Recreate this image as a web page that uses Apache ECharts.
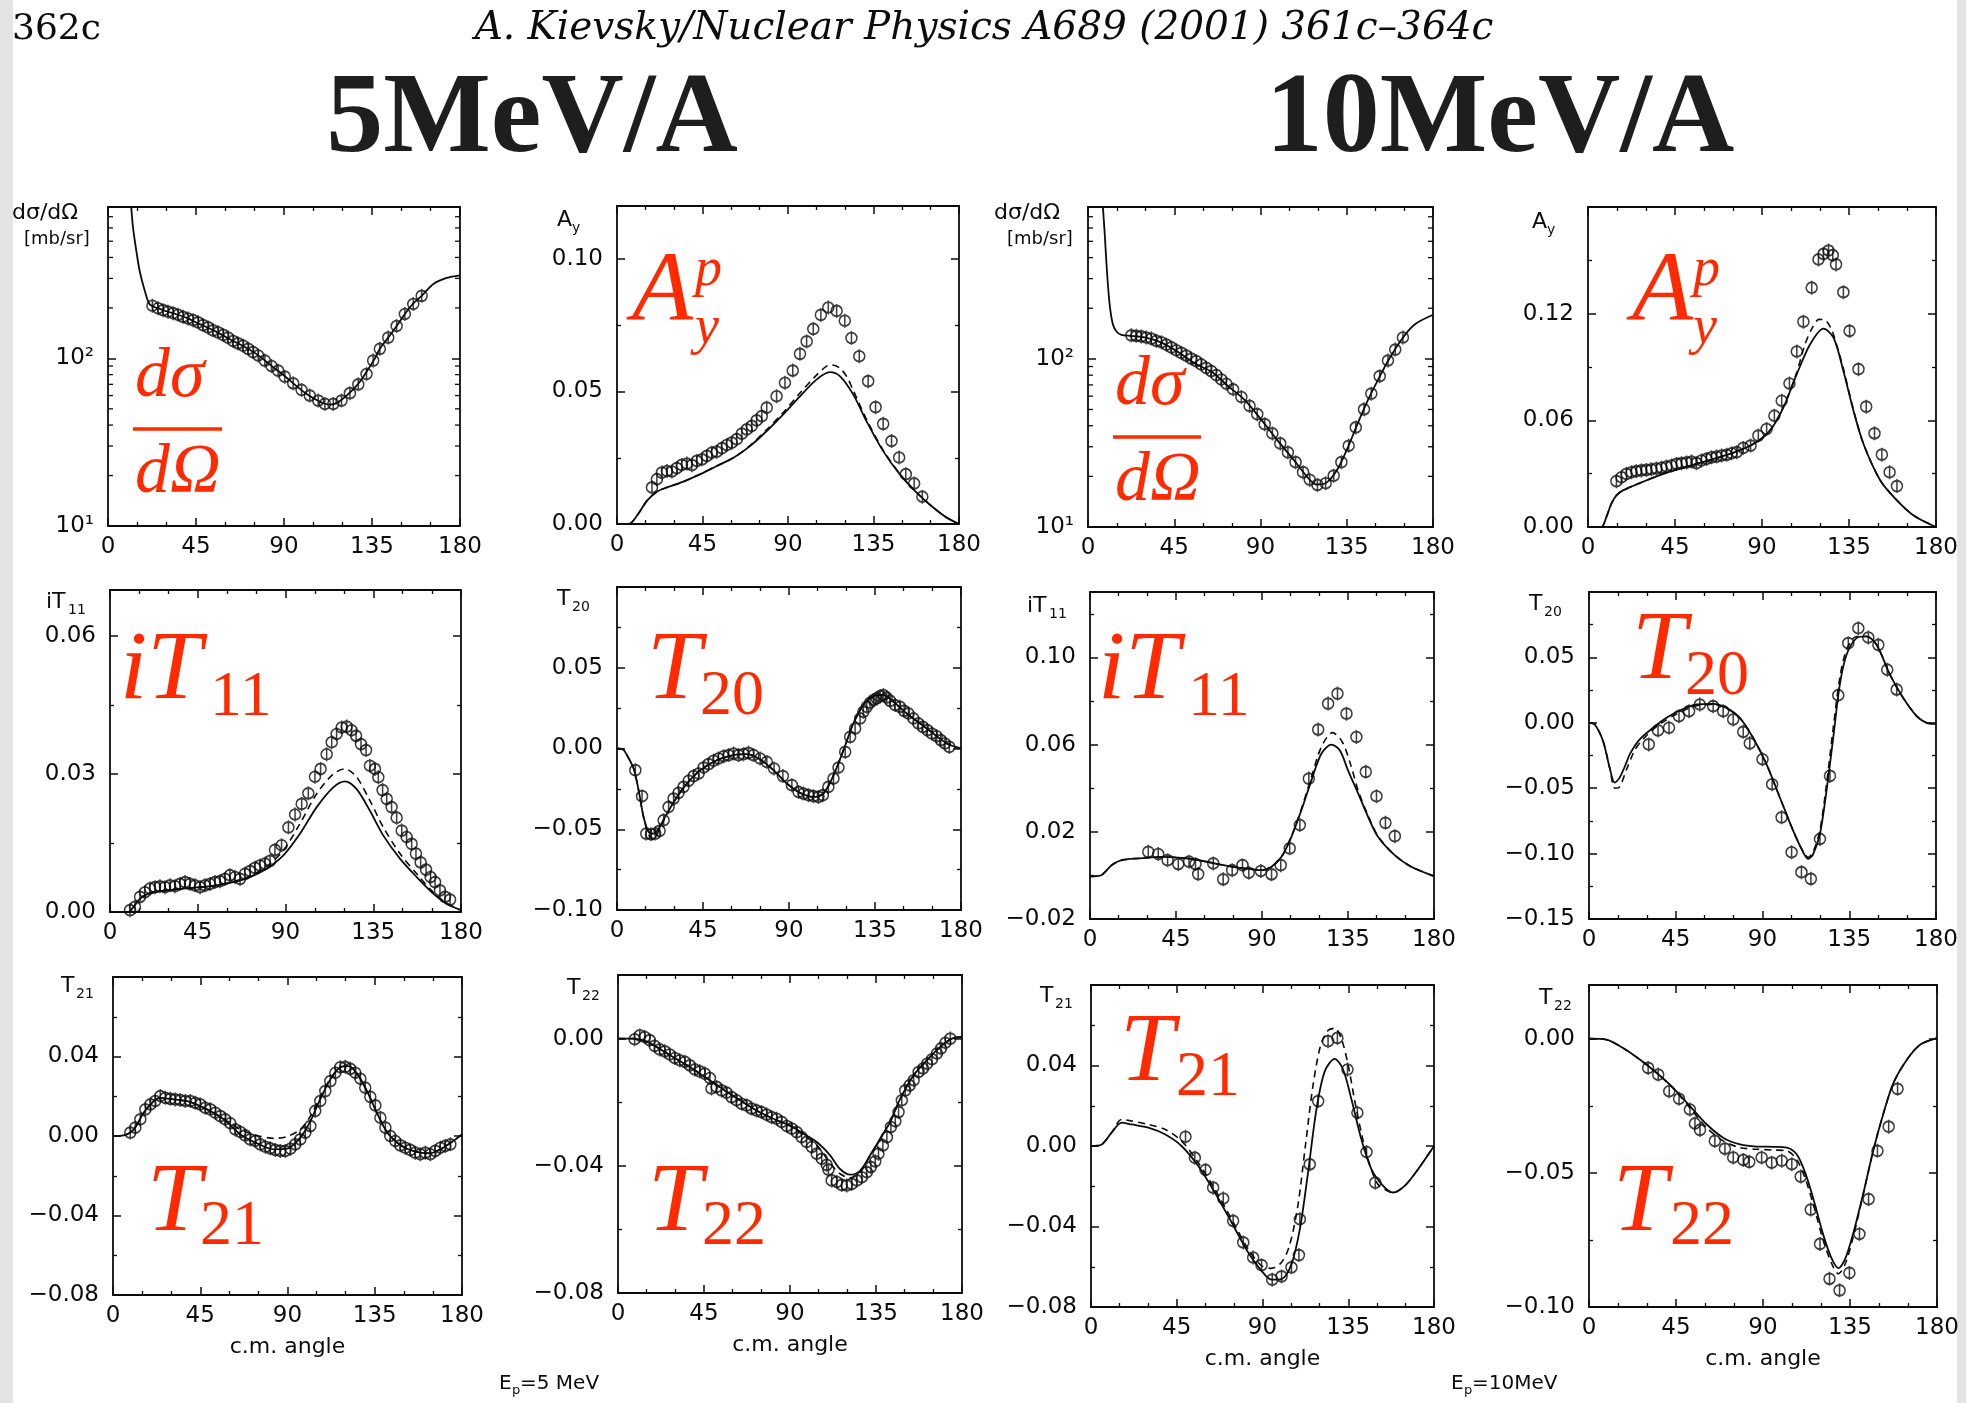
<!DOCTYPE html>
<html>
<head>
<meta charset="utf-8">
<title>A. Kievsky, Nucl. Phys. A689 (2001) 361c - p-d observables</title>
<script src="https://cdn.jsdelivr.net/npm/echarts@6/dist/echarts.min.js"></script>
<style>
  html, body { margin: 0; padding: 0; background: #fff; }
  #chart { width: 1966px; height: 1403px; }
</style>
</head>
<body>
<div id="chart"></div>
<script>
// angle ticks shared by every panel (c.m. angle, degrees)
const angleTicks = [0, 45, 90, 135, 180]
// minor ticks of the two log panels (mb/sr)
const logMinorTicks = [20, 30, 40, 50, 60, 70, 80, 90, 200, 300, 400, 500, 600, 700]

// ---- Ep = 5 MeV ----
// dsigma/dOmega [mb/sr]
const dsig5Calc = [[11.9,790],[12.8,603],[14.5,437],[16.2,332],[18.8,253],[21.3,210],[25,200],[30,191],[35,183],[40,175],[47,160],[55,145],[64,127],[70,117],[76,106],[83,91.5],[90,79],[95,70.5],[101,62],[106,57],[110,54],[114,53],[118,55],[122,60],[125.5,65.5],[129,73],[133,86],[136.5,100],[139,114],[143.3,133],[147.6,156],[151.8,184],[156,212],[160.4,236],[166.4,278],[173.2,302],[180,313]]
const dsig5Exp = [[22.7,206],[25.6,199],[28.2,194],[30.7,190],[33.3,186],[35.8,182],[38.4,177],[40.9,173],[43.5,169],[46.1,164],[48.6,158],[51.2,153],[53.7,147],[56.3,143],[58.9,138],[61.4,133],[64,127],[66.5,123],[69.1,119],[71.7,114],[74.2,109],[76.8,104],[80.2,97],[83.6,90],[87,84.5],[90.4,77.8],[94.7,71],[99,64.8],[103.2,60],[107.5,56],[110.9,53.5],[115.2,53.5],[119.4,56],[123.7,62],[128,70],[132.2,80.7],[135.6,97],[139,114],[143.3,133],[147.6,156],[151.8,184],[156.1,211],[160.4,236]]

// A_y
const ay5Calc = [[0,0],[6.1,0],[10.5,0.0031],[15.8,0.0088],[21,0.0122],[26.3,0.0138],[35,0.016],[43.8,0.0188],[52.5,0.0219],[61.3,0.025],[70,0.0294],[78.8,0.0351],[87.5,0.0414],[96.3,0.0482],[105,0.0545],[112,0.0573],[117.3,0.0558],[124.3,0.0489],[131.3,0.0388],[140,0.0276],[148.8,0.0188],[157.6,0.0119],[166.3,0.0063],[173.3,0.0025],[180,0]]
const ay5Alt = [[0,0],[6.1,0],[10.5,0.0031],[15.8,0.0088],[21,0.0122],[26.3,0.0138],[35,0.016],[43.8,0.0188],[52.5,0.0219],[61.3,0.025],[70,0.0296],[78.8,0.0356],[87.5,0.0421],[96.3,0.0494],[105,0.0562],[110,0.0594],[113,0.06],[117.3,0.0588],[121,0.0555],[124.3,0.0505],[131.3,0.0395],[140,0.028],[148.8,0.019],[157.6,0.012],[166.3,0.0063],[173.3,0.0025],[180,0]]
const ay5Exp = [[18.4,0.0138],[21,0.0169],[23.6,0.0194],[26.3,0.02],[28.9,0.0198],[31.5,0.0211],[34.1,0.0223],[36.8,0.0228],[39.4,0.0222],[42,0.0238],[44.7,0.0244],[47.3,0.0257],[49.9,0.0269],[52.5,0.0273],[55.2,0.0286],[57.8,0.0298],[60.4,0.0307],[63,0.032],[65.7,0.0341],[68.3,0.0357],[70.9,0.037],[73.5,0.0391],[76.2,0.0407],[78.8,0.0439],[84,0.0482],[88.4,0.0533],[92.5,0.0579],[96.3,0.0642],[99.8,0.0689],[103.3,0.0736],[107.3,0.0789],[111.2,0.0817],[115.6,0.0804],[119.9,0.0767],[123.4,0.0702],[127.5,0.0633],[132.2,0.0539],[136.1,0.0441],[140.1,0.0378],[144.5,0.0313],[148.5,0.0251],[152,0.0188],[156.4,0.0153],[160.7,0.0103]]

// iT11
const it5Calc = [[0,0],[9.4,0],[12,0.0011],[15.4,0.0029],[20.5,0.0041],[29,0.0047],[37.6,0.0051],[46.2,0.0054],[54.7,0.0058],[63.2,0.0065],[71.8,0.0076],[80.3,0.0094],[88.9,0.0123],[97.4,0.017],[106,0.0228],[114.5,0.0271],[120.5,0.0284],[126.5,0.0267],[133.3,0.022],[140.2,0.0166],[148.7,0.0116],[157.3,0.0076],[165.8,0.004],[172.6,0.0018],[180,0.0004]]
const it5Alt = [[0,0],[9.4,0],[12,0.0011],[15.4,0.0029],[20.5,0.0041],[29,0.0047],[37.6,0.0051],[46.2,0.0054],[54.7,0.0058],[63.2,0.0066],[71.8,0.0078],[80.3,0.0099],[88.9,0.0134],[97.4,0.0192],[106,0.0257],[114.5,0.03],[120.5,0.0311],[126.5,0.0293],[133.3,0.0242],[140.2,0.0184],[148.7,0.0127],[157.3,0.0083],[165.8,0.0043],[172.6,0.0019],[180,0.0004]]
const it5Exp = [[10.3,0.0004],[12.8,0.0011],[15.4,0.0033],[17.9,0.0043],[20.5,0.0051],[23.1,0.0054],[25.6,0.0056],[28.2,0.0054],[30.8,0.0058],[33.3,0.0056],[35.9,0.0061],[38.5,0.0065],[41,0.0061],[43.6,0.0058],[46.2,0.0054],[48.7,0.0058],[51.3,0.0061],[53.8,0.0065],[56.4,0.0067],[59,0.0072],[61.5,0.008],[64.1,0.0076],[66.7,0.0072],[69.2,0.0083],[71.8,0.0089],[74.4,0.0096],[76.9,0.0101],[79.5,0.0105],[82.1,0.0111],[84.6,0.0135],[88,0.0145],[91.5,0.0184],[94.9,0.0212],[98.3,0.0235],[101.7,0.0258],[105.1,0.0294],[108,0.0311],[111.1,0.0343],[113.7,0.0369],[116.2,0.0387],[118.8,0.0401],[121.4,0.0403],[123.9,0.0395],[126.2,0.0383],[128.7,0.0365],[131.3,0.0352],[133.3,0.0318],[135.9,0.0311],[137.6,0.0293],[139.8,0.0265],[141.9,0.0246],[144.4,0.0228],[147,0.0205],[149.6,0.0177],[152.1,0.0163],[154.7,0.0148],[156.9,0.0127],[159.3,0.0108],[162.1,0.0092],[164.4,0.0076],[166.7,0.0065],[169.2,0.0047],[171.8,0.0033],[174.4,0.0027]]

// T20
const t205Calc = [[0,0],[3,-0.0005],[5.2,-0.0041],[8.7,-0.0124],[11.3,-0.0258],[13.9,-0.0424],[16.6,-0.0517],[19.2,-0.0527],[21.8,-0.0496],[26.1,-0.0403],[31.4,-0.03],[36.6,-0.0217],[43.6,-0.0134],[52.3,-0.0072],[61,-0.0041],[68,-0.0035],[74.9,-0.0068],[81.9,-0.0134],[88.9,-0.0217],[95.8,-0.0275],[102.8,-0.03],[108,-0.0279],[113.3,-0.0165],[118.5,-0.001],[123.7,0.0155],[128.9,0.0269],[134.2,0.0324],[139.4,0.0331],[144.6,0.0289],[151.6,0.0217],[158.6,0.0155],[165.5,0.0093],[172.5,0.0031],[180,0]]
const t205Alt = [[0,0],[3,-0.0005],[5.2,-0.0041],[8.7,-0.0124],[11.3,-0.0258],[13.9,-0.0424],[16.6,-0.0535],[19.2,-0.0565],[21.8,-0.051],[26.1,-0.0406],[31.4,-0.03],[36.6,-0.0217],[43.6,-0.0134],[52.3,-0.0072],[61,-0.0041],[68,-0.0035],[74.9,-0.0068],[81.9,-0.0134],[88.9,-0.0217],[95.8,-0.0275],[102.8,-0.03],[108,-0.0279],[113.3,-0.0165],[118.5,-0.001],[123.7,0.0155],[128.9,0.0269],[134.2,0.0324],[139.4,0.0331],[144.6,0.0289],[151.6,0.0217],[158.6,0.0155],[165.5,0.0093],[172.5,0.0031],[180,0]]
const t205Exp = [[9.6,-0.0134],[13.1,-0.0295],[15.3,-0.0527],[17.8,-0.0531],[20,-0.0527],[22.3,-0.051],[24.4,-0.0444],[27,-0.0362],[29.6,-0.031],[32.2,-0.0275],[34.8,-0.0238],[37.5,-0.02],[40.1,-0.0171],[42.7,-0.0155],[45.3,-0.0118],[47.9,-0.0097],[50.5,-0.0076],[53.1,-0.0062],[55.8,-0.0048],[58.4,-0.0041],[61,-0.0031],[63.6,-0.0041],[66.2,-0.0035],[68.8,-0.0027],[71.4,-0.0041],[74.9,-0.0062],[78.4,-0.0083],[82.2,-0.0124],[86.8,-0.0171],[91.5,-0.0227],[95,-0.0269],[97.6,-0.0279],[100.2,-0.0289],[102.8,-0.0295],[105.4,-0.03],[107.7,-0.0289],[110.6,-0.0238],[113.3,-0.0186],[115.9,-0.0118],[119.4,-0.0021],[122,0.0072],[124.6,0.0124],[127.2,0.0186],[128.9,0.0227],[130.7,0.0258],[132.4,0.0283],[134.2,0.03],[135.9,0.031],[137.7,0.0324],[139.4,0.0331],[141.1,0.0316],[142.9,0.0295],[145.5,0.0269],[148.1,0.0258],[150.2,0.0233],[152.5,0.0217],[155.1,0.0186],[157.7,0.0155],[160,0.0134],[162.4,0.0114],[164.7,0.0093],[167.3,0.0076],[169.4,0.0052],[171.6,0.0031],[173.9,0.001]]

// T21
const t215Calc = [[0,0],[5.5,0.0003],[10.7,0.0033],[15.8,0.0117],[21,0.0176],[24.4,0.0192],[31.3,0.0184],[39.9,0.0171],[48.5,0.0134],[57.1,0.0084],[65.7,0.0008],[74.3,-0.0037],[82.9,-0.0067],[89.7,-0.0064],[96.6,-0.0008],[101.8,0.0075],[106.9,0.0185],[112.1,0.0285],[117.2,0.0346],[121.5,0.0352],[125.8,0.0315],[131,0.0226],[136.1,0.0117],[141.3,0.002],[146.5,-0.0033],[151.6,-0.0064],[158.5,-0.0084],[163.7,-0.0087],[168.8,-0.0067],[174.8,-0.003],[180,0.0008]]
const t215Alt = [[0,0],[5.5,0.0003],[10.7,0.0033],[15.8,0.0117],[21,0.0176],[24.4,0.0192],[31.3,0.0184],[39.9,0.0171],[48.5,0.0134],[57.1,0.0086],[65.7,0.0033],[74.3,0.0003],[82.9,-0.0012],[89.7,-0.0003],[96.6,0.0033],[101.8,0.01],[106.9,0.0195],[112.1,0.0288],[117.2,0.0346],[121.5,0.0352],[125.8,0.0315],[131,0.0226],[136.1,0.0117],[141.3,0.002],[146.5,-0.0033],[151.6,-0.0064],[158.5,-0.0084],[163.7,-0.0087],[168.8,-0.0067],[174.8,-0.003],[180,0.0008]]
const t215Exp = [[8.9,0.0017],[11.5,0.0042],[14.1,0.0084],[16.7,0.0134],[19.3,0.0159],[21.8,0.0176],[24.4,0.0201],[27,0.0192],[29.6,0.0187],[32.1,0.0184],[34.7,0.0181],[37.3,0.0176],[39.9,0.0176],[42.5,0.0167],[45,0.0159],[47.6,0.0142],[50.2,0.0134],[52.8,0.0117],[55.4,0.01],[57.9,0.0084],[60.5,0.0064],[63.1,0.0033],[65.7,0.002],[68.2,0.0003],[70.8,-0.0017],[73.4,-0.0025],[76,-0.0042],[78.6,-0.0054],[81.1,-0.0062],[83.7,-0.007],[86.3,-0.0075],[88.9,-0.0075],[91.5,-0.0064],[94,-0.0042],[96.6,-0.0017],[99.2,0.0017],[101.8,0.005],[104.3,0.0126],[106.9,0.0176],[109.5,0.0226],[112.1,0.0276],[114.7,0.0318],[117.2,0.0346],[119.8,0.0348],[122.4,0.0338],[125,0.0318],[127.6,0.0288],[130.1,0.0243],[132.7,0.0197],[135.3,0.0154],[137.9,0.0092],[140.5,0.0042],[143,0],[145.6,-0.0025],[148.2,-0.0047],[150.8,-0.0059],[153.3,-0.007],[155.9,-0.0084],[158.5,-0.0092],[161.1,-0.0084],[163.7,-0.0092],[166.2,-0.0075],[168.8,-0.0059],[171.4,-0.005],[174,-0.0042]]

// T22
const t225Calc = [[0,0],[7.9,0],[13.1,-0.0005],[20.1,-0.0026],[28.8,-0.0058],[37.6,-0.0089],[46.3,-0.0124],[55.1,-0.016],[63.8,-0.0194],[72.5,-0.0226],[81.3,-0.0252],[90,-0.0273],[97,-0.0299],[104,-0.0325],[111,-0.0367],[116.2,-0.041],[121.5,-0.0428],[126.7,-0.0415],[131.9,-0.0367],[137.2,-0.0315],[142.4,-0.0262],[147.7,-0.0189],[154.7,-0.0115],[161.7,-0.0068],[168.6,-0.0026],[174.8,0],[180,0.0005]]
const t225Alt = [[0,0],[7.9,0],[13.1,-0.0005],[20.1,-0.0026],[28.8,-0.0058],[37.6,-0.0089],[46.3,-0.0124],[55.1,-0.016],[63.8,-0.0194],[72.5,-0.0226],[81.3,-0.0252],[90,-0.0275],[97,-0.0304],[104,-0.0335],[111,-0.0392],[116.2,-0.0425],[121.5,-0.0438],[126.7,-0.042],[131.9,-0.0369],[137.2,-0.0315],[142.4,-0.0262],[147.7,-0.0189],[154.7,-0.0115],[161.7,-0.0068],[168.6,-0.0026],[174.8,0],[180,0.0005]]
const t225Exp = [[8.7,-0.0002],[11.4,0.001],[14,0.0005],[16.6,-0.0005],[19.2,-0.0023],[21.8,-0.0034],[24.5,-0.004],[27.1,-0.005],[29.7,-0.0061],[32.3,-0.0068],[35,-0.0073],[37.6,-0.0084],[40.2,-0.0097],[42.8,-0.0103],[45.4,-0.011],[48.1,-0.0124],[48.9,-0.0157],[51.6,-0.0152],[54.2,-0.0163],[56.8,-0.017],[59.4,-0.0184],[62,-0.0194],[64.7,-0.0205],[67.3,-0.021],[69.9,-0.022],[72.5,-0.0226],[75.1,-0.0231],[77.8,-0.0239],[80.4,-0.0247],[83,-0.0252],[85.6,-0.0262],[88.3,-0.0275],[90.9,-0.0283],[93.5,-0.0294],[96.1,-0.031],[98.7,-0.0325],[101.4,-0.0341],[104,-0.0362],[106.6,-0.0378],[109.2,-0.0397],[110.1,-0.0412],[111.8,-0.0446],[114.5,-0.0451],[117.1,-0.046],[119.7,-0.0462],[122.3,-0.0457],[125,-0.0446],[127.6,-0.0436],[130.2,-0.042],[132.3,-0.0404],[134.6,-0.0386],[136.3,-0.0362],[138.6,-0.0336],[140.7,-0.031],[142.8,-0.0278],[145.1,-0.026],[146.8,-0.0231],[148.5,-0.0194],[150.3,-0.0163],[152.6,-0.0147],[154.7,-0.0131],[157.3,-0.0105],[159.6,-0.0094],[161.7,-0.0079],[164.3,-0.0065],[166.9,-0.0047],[169,-0.0031],[171.3,-0.0013],[173.9,0]]

// ---- Ep = 10 MeV ----
const dsig10Calc = [[7.8,790],[8.7,560],[9.9,330],[11.3,210],[13,160],[15,145],[17.4,139],[22.6,137],[29.6,134],[38.3,125],[47,110],[55.7,94],[64.3,84],[73,69],[81.7,57],[90.4,43.5],[99.1,32.5],[107.8,24.7],[114.8,19.6],[119.1,17.9],[124.3,18.3],[130.4,22.3],[135.7,30],[140.9,41.8],[146.1,57],[151.3,75],[156.5,97],[163.5,130],[170.4,160],[180,183]]
const dsig10Exp = [[22.6,138],[25.2,137],[27.8,136],[30.4,134],[33,132],[35.7,128],[38.3,125.5],[40.9,121.5],[43.5,117],[46.1,112.5],[48.7,108.5],[51.3,104.6],[53.9,100.4],[56.5,96.9],[59.1,92.6],[61.7,88.4],[64.3,84.6],[67,80],[69.6,75.4],[72.2,71.1],[75.7,65.9],[80,59.3],[84.3,52.5],[88.3,46.9],[92.2,40.9],[96.2,36],[100.3,31.4],[104.3,27.8],[108.3,24.3],[112.2,21.2],[115.7,19.1],[119.7,17.8],[124,18.2],[128.2,20.2],[132.2,24.3],[136,30.4],[139.7,39.1],[144,50.1],[147.8,62.1],[152.2,78.9],[156.5,97.7],[160.3,113.5],[164.3,134]]

const ay10Calc = [[0,0],[6.9,0],[9.5,0.0056],[12.1,0.0131],[14.7,0.0178],[18.1,0.0206],[26.8,0.0247],[38.9,0.0299],[56.1,0.0355],[73.4,0.0411],[85.5,0.0467],[94.1,0.0542],[101.1,0.0673],[108,0.086],[114.9,0.1028],[121.8,0.1116],[127,0.1065],[132.1,0.0878],[137.3,0.0654],[142.5,0.0467],[151.2,0.0262],[159.8,0.015],[168.4,0.0065],[180,0]]
const ay10Alt = [[0,0],[6.9,0],[9.5,0.0056],[12.1,0.0131],[14.7,0.0178],[18.1,0.0206],[26.8,0.0247],[38.9,0.0299],[56.1,0.0355],[73.4,0.0411],[85.5,0.0467],[94.1,0.0544],[101.1,0.0678],[108,0.087],[112,0.102],[116,0.112],[119.5,0.1168],[122.5,0.1165],[126,0.111],[129,0.101],[132.1,0.089],[137.3,0.066],[142.5,0.0467],[151.2,0.0262],[159.8,0.015],[168.4,0.0065],[180,0]]
const ay10Exp = [[14.7,0.0258],[17.3,0.028],[19.9,0.0299],[22.5,0.0308],[25,0.0314],[27.6,0.0318],[30.2,0.0321],[32.8,0.0325],[35.4,0.0329],[38,0.0333],[40.6,0.034],[43.2,0.0346],[45.8,0.0355],[48.4,0.0359],[51,0.0363],[53.6,0.0368],[56.1,0.0359],[58.7,0.0374],[61.3,0.0383],[63.9,0.0392],[66.5,0.0396],[69.1,0.0402],[71.7,0.0406],[74.3,0.0415],[76.9,0.0421],[80.3,0.0445],[84.1,0.0458],[88.1,0.0514],[92.4,0.0551],[96.4,0.0626],[100.2,0.071],[104.2,0.0807],[108,0.0987],[111.4,0.1155],[115.7,0.1346],[119.2,0.1505],[121.8,0.1536],[124.4,0.1555],[126.6,0.1529],[128.3,0.1477],[132.1,0.1321],[135.3,0.1103],[139.9,0.0888],[143.9,0.0677],[148.2,0.0527],[152,0.0407],[156,0.0308],[159.8,0.023]]

const it10Calc = [[0,-0.0005],[6.1,0.0002],[11.3,0.0047],[16.6,0.007],[25.3,0.0078],[37.5,0.0085],[46.2,0.0082],[54.9,0.0073],[63.6,0.0058],[72.3,0.0043],[81,0.0032],[89.7,0.0024],[95,0.004],[100.2,0.0085],[105.4,0.0177],[110.6,0.0299],[115.9,0.0437],[121.1,0.0559],[126.3,0.06],[130.7,0.0574],[135,0.0482],[140.3,0.0376],[145.5,0.0269],[150.7,0.0177],[159.4,0.0093],[168.1,0.004],[180,-0.0003]]
const it10Alt = [[0,-0.0005],[6.1,0.0002],[11.3,0.0047],[16.6,0.007],[25.3,0.0078],[37.5,0.0085],[46.2,0.0082],[54.9,0.0073],[63.6,0.0058],[72.3,0.0043],[81,0.0032],[89.7,0.0024],[95,0.004],[100.2,0.0085],[105.4,0.018],[110.6,0.0305],[115.9,0.0452],[121.1,0.059],[126.9,0.0655],[132,0.0612],[136.5,0.0505],[140.3,0.039],[145.5,0.0275],[150.7,0.018],[159.4,0.0093],[168.1,0.004],[180,-0.0003]]
const it10Exp = [[30.5,0.0108],[35.7,0.0098],[40.6,0.007],[46.2,0.0052],[51.8,0.0063],[55.2,0.0052],[56.6,0.0006],[64.5,0.0055],[69.7,-0.0018],[74.4,0.0024],[79.8,0.0047],[83.1,0.0012],[89.4,0.002],[95,0.0005],[99.8,0.0047],[104.5,0.0124],[109.8,0.0231],[114.5,0.0444],[119.4,0.0669],[124.6,0.0788],[129.5,0.0834],[134.2,0.0742],[139.4,0.0635],[144.3,0.0475],[149.9,0.0363],[154.6,0.0241],[159.5,0.018]]

const t2010Calc = [[0,0],[3,-0.0013],[7.3,-0.014],[10.7,-0.0343],[13.3,-0.0457],[15.9,-0.0419],[19.4,-0.0305],[21.1,-0.0241],[26.3,-0.0127],[33.2,-0.0038],[40.2,0.0038],[47.1,0.0094],[55.7,0.014],[64.4,0.0145],[71.3,0.0114],[78.2,0.0038],[85.1,-0.0114],[92.1,-0.0317],[99,-0.0571],[105.9,-0.0825],[111.1,-0.099],[113.7,-0.1041],[116.3,-0.1003],[119.8,-0.085],[123.2,-0.052],[126.7,-0.0114],[130.1,0.0292],[133.6,0.052],[138.8,0.0647],[144,0.066],[149.2,0.0596],[156.1,0.0368],[163,0.019],[170,0.0051],[175.1,0],[180,-0.0008]]
const t2010Alt = [[0,0],[3,-0.0013],[7.3,-0.014],[10.7,-0.0343],[13.5,-0.05],[15.9,-0.049],[19.4,-0.036],[24,-0.0203],[30,-0.0095],[37,-0.0008],[45,0.0063],[55.7,0.013],[64.4,0.014],[71.3,0.011],[78.2,0.0038],[85.1,-0.0114],[92.1,-0.0317],[99,-0.0571],[105.9,-0.0825],[111.1,-0.0985],[113.7,-0.1028],[116.3,-0.0985],[119.8,-0.082],[123.2,-0.047],[126.7,-0.0038],[130.1,0.0343],[133.6,0.0558],[138.8,0.066],[144,0.066],[149.2,0.0596],[156.1,0.0368],[163,0.019],[170,0.0051],[175.1,0],[180,-0.0008]]
const t2010Exp = [[31,-0.0165],[35.8,-0.0058],[41.5,-0.0038],[46.7,0.0051],[51.9,0.0089],[57.5,0.014],[64.4,0.0127],[69.6,0.0089],[74.8,0.0025],[80,-0.0069],[83.4,-0.0157],[90,-0.0279],[95,-0.047],[99.9,-0.0723],[105.1,-0.099],[110.2,-0.1142],[115.1,-0.1193],[119.8,-0.0888],[125,-0.0406],[129.3,0.0211],[134.5,0.0609],[139.7,0.0723],[144.9,0.0652],[150.1,0.0596],[154.7,0.0406],[159.6,0.0254]]

const t2110Calc = [[0,0],[5.6,0.0008],[10.8,0.0066],[16.1,0.0116],[21.3,0.0107],[30.1,0.0091],[38.8,0.0058],[47.5,0],[56.3,-0.0099],[65,-0.0231],[73.8,-0.038],[82.5,-0.0529],[89.5,-0.062],[94.7,-0.0664],[100,-0.0661],[105.2,-0.0587],[109.6,-0.0413],[113.9,-0.0132],[118.3,0.0182],[122.7,0.0372],[127.9,0.0433],[132.3,0.038],[136.7,0.0231],[141.9,0.0033],[147.2,-0.0116],[153.3,-0.0198],[158.5,-0.0231],[164.6,-0.0198],[171.6,-0.0116],[180,0]]
const t2110Alt = [[0,0],[5.6,0.0008],[10.8,0.0066],[16.1,0.0132],[21.3,0.0124],[30.1,0.0107],[38.8,0.0083],[47.5,0.0025],[56.3,-0.0083],[65,-0.0215],[73.8,-0.0364],[82.5,-0.0512],[89.5,-0.0595],[94.7,-0.0608],[99.8,-0.058],[104,-0.05],[108.5,-0.03],[112.5,0],[116.5,0.03],[120.5,0.05],[124.5,0.0575],[128,0.0585],[131.5,0.053],[135,0.04],[138.5,0.022],[142.5,0.004],[146.5,-0.01],[150.5,-0.019],[155,-0.022],[158.5,-0.0233],[164.6,-0.0198],[171.6,-0.0116],[180,0]]
const t2110Exp = [[49.6,0.0046],[54.5,-0.0058],[60.1,-0.0119],[64.1,-0.0207],[69.4,-0.0261],[74.6,-0.0372],[79.9,-0.0479],[85.1,-0.0554],[89.5,-0.0592],[95.1,-0.0664],[100,-0.0648],[105.2,-0.0603],[109.1,-0.0542],[109.6,-0.0364],[114.8,-0.0091],[119.2,0.0223],[124.4,0.0521],[129.3,0.0537],[134.6,0.038],[139.8,0.0165],[144.6,-0.003],[149.2,-0.0182]]

const t2210Calc = [[0,0],[9,-0.0004],[17.6,-0.0035],[26.3,-0.0078],[34.9,-0.0127],[43.5,-0.0183],[52.2,-0.0251],[60.8,-0.0319],[69.4,-0.0369],[78.1,-0.0394],[86.7,-0.0402],[95.4,-0.0403],[102.3,-0.0406],[107.4,-0.0431],[111.8,-0.0499],[116.1,-0.0598],[121.3,-0.0734],[125.6,-0.0821],[129,-0.0855],[132.5,-0.0821],[136.8,-0.0722],[142,-0.0573],[147.2,-0.0412],[152.4,-0.0276],[157.5,-0.0165],[164.5,-0.0078],[171.4,-0.0022],[180,0.0002]]
const t2210Alt = [[0,0],[9,-0.0004],[17.6,-0.0035],[26.3,-0.0078],[34.9,-0.0127],[43.5,-0.0185],[52.2,-0.0258],[60.8,-0.0332],[69.4,-0.0381],[78.1,-0.0406],[86.7,-0.0412],[95.4,-0.0415],[102.3,-0.0418],[107.4,-0.045],[111.8,-0.052],[116.1,-0.062],[121.3,-0.0755],[125.6,-0.0839],[129,-0.0876],[132.5,-0.084],[136.8,-0.0735],[142,-0.0575],[147.2,-0.0412],[152.4,-0.0276],[157.5,-0.0165],[164.5,-0.0078],[171.4,-0.0022],[180,0.0002]]
const t2210Exp = [[30.6,-0.0109],[35.8,-0.0134],[41.5,-0.0196],[46.6,-0.0224],[52.2,-0.0264],[54.8,-0.0316],[57.4,-0.034],[65.1,-0.0381],[70.3,-0.041],[74.6,-0.0443],[79.8,-0.0452],[82.9,-0.0459],[89.3,-0.0443],[94.5,-0.0462],[99.7,-0.0455],[104.9,-0.0468],[109.5,-0.0514],[114.7,-0.0637],[119.5,-0.0765],[124.4,-0.0895],[129.6,-0.0938],[134.7,-0.0873],[139.9,-0.0728],[144.6,-0.0598],[149.2,-0.0418],[155,-0.0328],[159.6,-0.0187]]

// panel order: rows top to bottom, columns 5 MeV | 5 MeV | 10 MeV | 10 MeV
const panels = [
  { calc: dsig5Calc, exp: dsig5Exp, y: { log: true, min: 10, max: 800 } },
  { calc: ay5Calc, alt: ay5Alt, exp: ay5Exp, y: { min: 0, max: 0.12, interval: 0.05 } },
  { calc: dsig10Calc, exp: dsig10Exp, y: { log: true, min: 10, max: 800 } },
  { calc: ay10Calc, alt: ay10Alt, exp: ay10Exp, y: { min: 0, max: 0.18, interval: 0.06 } },
  { calc: it5Calc, alt: it5Alt, exp: it5Exp, y: { min: 0, max: 0.07, interval: 0.03 } },
  { calc: t205Calc, alt: t205Alt, exp: t205Exp, y: { min: -0.10, max: 0.10, interval: 0.05 } },
  { calc: it10Calc, alt: it10Alt, exp: it10Exp, y: { min: -0.02, max: 0.13, interval: 0.04 } },
  { calc: t2010Calc, alt: t2010Alt, exp: t2010Exp, y: { min: -0.15, max: 0.10, interval: 0.05 } },
  { calc: t215Calc, alt: t215Alt, exp: t215Exp, y: { min: -0.08, max: 0.08, interval: 0.04 } },
  { calc: t225Calc, alt: t225Alt, exp: t225Exp, y: { min: -0.08, max: 0.02, interval: 0.04 } },
  { calc: t2110Calc, alt: t2110Alt, exp: t2110Exp, y: { min: -0.08, max: 0.08, interval: 0.04 } },
  { calc: t2210Calc, alt: t2210Alt, exp: t2210Exp, y: { min: -0.10, max: 0.02, interval: 0.05 } }
]

// plot boxes [left, top, width, height] in px
const boxes = [
  [108, 207, 352, 319], [617, 206, 342, 318], [1088, 207, 345, 320], [1588, 207, 348, 320],
  [110, 590, 351, 322], [617, 587, 344, 323], [1090, 592, 344, 327], [1589, 592, 347, 327],
  [113, 977, 349, 318], [618, 975, 344, 318], [1091, 985, 343, 322], [1589, 985, 348, 322]
]

const INK = '#0c0c0c'
const RED = '#ff2a00'
const SANS = 'DejaVu Sans'
const SERIF = 'Liberation Serif'
// open circle with a short vertical error bar through it
const POINT = 'path://M10,0A10,10 0 1,1 10,20A10,10 0 1,1 10,0ZM10,-3L10,23'

function valueLabel(v) {
  if (Math.abs(v) < 1e-9) return '0.00'
  return (v < 0 ? '\u2212' : '') + Math.abs(v).toFixed(2)
}
function logLabel(v) {
  return { 10: '10\u00b9', 100: '10\u00b2' }[Math.round(v)] || ''
}

function frameAxis(dim, i, position, scale, labelled, name) {
  const axis = {
    gridIndex: i,
    type: scale.log ? 'log' : 'value',
    position,
    min: scale.min,
    max: scale.max,
    axisLine: { show: true, onZero: false, lineStyle: { color: INK, width: 1.8 } },
    axisTick: { show: true, inside: true, length: 8, lineStyle: { color: INK, width: 1.5 } },
    minorTick: { show: !scale.log, splitNumber: dim === 'x' ? 3 : 2, length: 4, lineStyle: { color: INK, width: 1.3 } },
    splitLine: { show: false },
    minorSplitLine: { show: false },
    axisLabel: {
      show: labelled,
      color: INK,
      fontFamily: SANS,
      fontSize: 23,
      margin: dim === 'x' ? 10 : 14,
      showMinLabel: true,
      showMaxLabel: dim === 'x',
      formatter: dim === 'x' ? v => String(Math.round(v)) : (scale.log ? logLabel : valueLabel)
    }
  }
  if (scale.interval) axis.interval = scale.interval
  if (scale.log) axis.logBase = 10
  if (name) {
    axis.name = name
    axis.nameLocation = 'middle'
    axis.nameGap = 41
    axis.nameTextStyle = { color: INK, fontFamily: SANS, fontSize: 22 }
  }
  return axis
}

const angleScale = { min: angleTicks[0], max: angleTicks[angleTicks.length - 1], interval: angleTicks[1] - angleTicks[0] }
const grid = []
const xAxis = []
const yAxis = []
const series = []

panels.forEach((p, i) => {
  const b = boxes[i]
  grid.push({ left: b[0], top: b[1], width: b[2], height: b[3], outerBoundsMode: 'none' })
  xAxis.push(frameAxis('x', i, 'bottom', angleScale, true, i >= 8 ? 'c.m. angle' : null))
  xAxis.push(frameAxis('x', i, 'top', angleScale, false))
  yAxis.push(frameAxis('y', i, 'left', p.y, true))
  yAxis.push(frameAxis('y', i, 'right', p.y, false))

  series.push({
    type: 'line', xAxisIndex: 2 * i, yAxisIndex: 2 * i, data: p.calc,
    showSymbol: false, smooth: 0.3, silent: true, z: 3,
    lineStyle: { color: INK, width: 1.8 }
  })
  if (p.alt) {
    series.push({
      type: 'line', xAxisIndex: 2 * i, yAxisIndex: 2 * i, data: p.alt,
      showSymbol: false, smooth: 0.3, silent: true, z: 3,
      lineStyle: { color: INK, width: 1.6, type: [7, 5] }
    })
  }
  series.push({
    type: 'scatter', xAxisIndex: 2 * i, yAxisIndex: 2 * i, data: p.exp,
    symbol: POINT, symbolSize: [11, 14], silent: true, z: 4,
    itemStyle: { color: 'rgba(0,0,0,0)', borderColor: INK, borderWidth: 1.7 }
  })
  // log panels: minor ticks at 20..90 and 200..700 on both frame sides
  if (p.y.log) {
    series.push({
      type: 'custom', xAxisIndex: 2 * i, yAxisIndex: 2 * i, silent: true, z: 5,
      data: logMinorTicks.map(v => [0, v]),
      renderItem(params, api) {
        const v = api.value(1)
        const l = api.coord([angleScale.min, v])
        const r = api.coord([angleScale.max, v])
        const st = { stroke: INK, lineWidth: 1.3 }
        return {
          type: 'group',
          children: [
            { type: 'line', shape: { x1: l[0], y1: l[1], x2: l[0] + 5, y2: l[1] }, style: st },
            { type: 'line', shape: { x1: r[0] - 5, y1: r[1], x2: r[0], y2: r[1] }, style: st }
          ]
        }
      }
    })
  }
})

// texts placed by baseline; zrender centres a line on y, so move up by the half em box
const graphic = [
  { type: 'rect', shape: { x: 0, y: 0, width: 13, height: 1403 }, style: { fill: '#e4e4e2' }, silent: true },
  { type: 'rect', shape: { x: 1957, y: 0, width: 9, height: 1403 }, style: { fill: '#e4e4e2' }, silent: true }
]
function label(text, x, baseline, size, o = {}) {
  const family = o.family || SANS
  graphic.push({
    type: 'text', x, y: baseline - (family === SERIF ? 0.3375 : 0.346) * size, silent: true, z: 10,
    style: {
      text, fontSize: size, fontFamily: family,
      fontStyle: o.italic ? 'italic' : 'normal',
      fontWeight: o.bold ? 'bold' : 'normal',
      fill: o.color || INK, align: o.align || 'left', verticalAlign: 'middle'
    }
  })
}
function fracBar(x1, x2, y) {
  graphic.push({ type: 'line', shape: { x1, y1: y, x2, y2: y }, style: { stroke: RED, lineWidth: 3.5 }, silent: true, z: 10 })
}

// page header
label('362c', 12, 42, 36, { family: 'DejaVu Serif' })
label('A. Kievsky/Nuclear Physics A689 (2001) 361c\u2013364c', 984, 42, 39, { family: 'DejaVu Serif', italic: true, align: 'center' })
label('5MeV/A', 532, 160, 114, { family: SERIF, bold: true, align: 'center', color: '#1e1e1e' })
label('10MeV/A', 1500, 160, 114, { family: SERIF, bold: true, align: 'center', color: '#1e1e1e' })

// small axis titles
label('d\u03c3/d\u03a9', 12, 221, 22)
label('[mb/sr]', 24, 246, 18)
label('d\u03c3/d\u03a9', 994, 221, 22)
label('[mb/sr]', 1007, 246, 18)
const smallTitles = [
  ['A', 'y', 557, 228], ['A', 'y', 1532, 230],
  ['iT', '11', 46, 610], ['T', '20', 557, 607], ['iT', '11', 1027, 614], ['T', '20', 1529, 612],
  ['T', '21', 61, 994], ['T', '22', 567, 996], ['T', '21', 1040, 1004], ['T', '22', 1539, 1006]
]
smallTitles.forEach(([main, sub, x, base]) => {
  label(main, x, base, 22)
  label(sub, x + (main === 'iT' ? 22 : 15), base + 5, 14)
})

// red observable symbols
const redOpts = { family: SERIF, italic: true, color: RED }
const redUp = { family: SERIF, color: RED }
label('d\u03c3', 135, 401, 70, redOpts)
fracBar(133, 222, 429)
label('d\u03a9', 135, 497, 70, redOpts)
label('d\u03c3', 1115, 409, 70, redOpts)
fracBar(1113, 1201, 437)
label('d\u03a9', 1115, 505, 70, redOpts)
;[[632, 695], [1632, 1693]].forEach(([xa, xs]) => {
  label('A', xa, 327, 100, redOpts)
  label('p', xs, 289, 54, redOpts)
  label('y', xs, 347, 54, redOpts)
})
const redSymbols = [
  ['iT', '11', 120, 705, 210, 720], ['T', '20', 647, 705, 700, 719],
  ['iT', '11', 1098, 705, 1188, 720], ['T', '20', 1632, 685, 1685, 699],
  ['T', '21', 147, 1237, 200, 1249], ['T', '22', 648, 1237, 702, 1249],
  ['T', '21', 1120, 1087, 1176, 1100], ['T', '22', 1613, 1237, 1670, 1249]
]
redSymbols.forEach(([main, sub, x, base, sx, sbase]) => {
  label(main, x, base, 98, redOpts)
  label(sub, sx, sbase, 64, redUp)
})

// beam energy captions
label('E', 499, 1391, 20)
label('p', 512, 1395, 13)
label('=5 MeV', 520, 1391, 20)
label('E', 1451, 1391, 20)
label('p', 1464, 1395, 13)
label('=10MeV', 1472, 1391, 20)

const chart = echarts.init(document.getElementById('chart'))
chart.setOption({
  backgroundColor: '#ffffff',
  animation: false,
  grid,
  xAxis,
  yAxis,
  series,
  graphic
})
</script>
</body>
</html>
